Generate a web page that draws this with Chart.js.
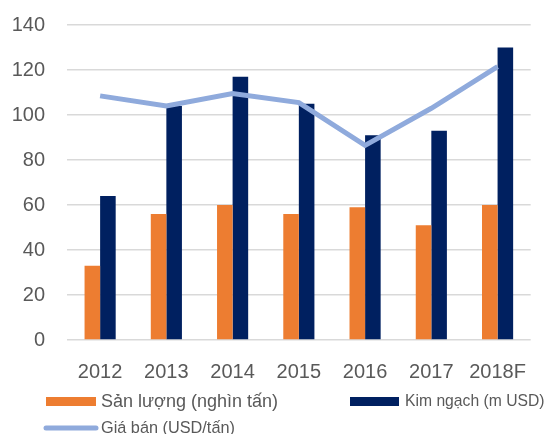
<!DOCTYPE html>
<html>
<head>
<meta charset="utf-8">
<script src="https://cdn.jsdelivr.net/npm/chart.js@4/dist/chart.umd.min.js"></script>
<style>
    html, body { margin: 0; padding: 0; background: #fff; }
    #wrap { width: 547px; height: 434px; position: relative; }
</style>
</head>
<body>
<div id="wrap"><canvas id="chart" width="547" height="434"></canvas></div>
<script>
// Data
const years = ['2012', '2013', '2014', '2015', '2016', '2017', '2018F'];
const sanLuong = [33, 56, 60, 56, 59, 51, 60];
const kimNgach = [64, 104, 117, 105, 91, 93, 130];
const giaBan = [108.5, 104, 109.5, 105.5, 86.5, 103, 121.5];
const yTicks = [0, 20, 40, 60, 80, 100, 120, 140];

const ORANGE = '#ED7D31';
const NAVY = '#002060';
const LIGHT = '#8FAADC';
const TEXT = '#595959';
const FONT = "'Liberation Sans', Arial, sans-serif";

// fit a legend label into the width it has in the original
function fitText(ctx, text, x, y, width) {
    ctx.font = '17px ' + FONT;
    const size = Math.min(18, 17 * width / ctx.measureText(text).width);
    ctx.font = size.toFixed(1) + 'px ' + FONT;
    ctx.fillText(text, x, y);
}

// Legend drawn by hand to get the two-row layout of the original
const legendPlugin = {
    id: 'customLegend',
    afterDraw(chart) {
        const ctx = chart.ctx;
        const ds = chart.data.datasets;
        ctx.save();
        ctx.textBaseline = 'middle';

        // row 1: the two bar series
        ctx.fillStyle = ds[0].backgroundColor;
        ctx.fillRect(46, 397, 50, 9);
        ctx.fillStyle = TEXT;
        fitText(ctx, ds[0].label, 101, 402, 178);

        ctx.fillStyle = ds[1].backgroundColor;
        ctx.fillRect(350, 397, 49, 9);
        ctx.fillStyle = TEXT;
        fitText(ctx, ds[1].label, 405, 402, 140);

        // row 2: the line series
        ctx.strokeStyle = ds[2].borderColor;
        ctx.lineWidth = 5;
        ctx.lineCap = 'round';
        ctx.beginPath();
        ctx.moveTo(46, 428);
        ctx.lineTo(96, 428);
        ctx.stroke();
        fitText(ctx, ds[2].label, 101, 429, 134);
        ctx.restore();
    }
};

const ctx = document.getElementById('chart').getContext('2d');
new Chart(ctx, {
    type: 'bar',
    data: {
        labels: years,
        datasets: [
            {
                type: 'bar',
                label: 'Sản lượng (nghìn tấn)',
                data: sanLuong,
                backgroundColor: ORANGE,
                categoryPercentage: 0.47,
                barPercentage: 1,
                order: 2
            },
            {
                type: 'bar',
                label: 'Kim ngạch (m USD)',
                data: kimNgach,
                backgroundColor: NAVY,
                categoryPercentage: 0.47,
                barPercentage: 1,
                order: 2
            },
            {
                type: 'line',
                label: 'Giá bán (USD/tấn)',
                data: giaBan,
                borderColor: LIGHT,
                backgroundColor: LIGHT,
                borderWidth: 5,
                pointRadius: 0,
                tension: 0,
                fill: false,
                order: 0
            }
        ]
    },
    options: {
        responsive: false,
        animation: false,
        layout: {
            padding: { left: 0, right: 15, top: 25, bottom: 50 }
        },
        plugins: {
            legend: { display: false },
            tooltip: { enabled: false }
        },
        scales: {
            x: {
                grid: { display: false, drawTicks: false },
                border: { display: false },
                ticks: {
                    color: TEXT,
                    padding: 20,
                    font: { family: FONT, size: 20 }
                },
                afterFit(scale) { scale.height = 44; }
            },
            y: {
                min: 0,
                max: 140,
                afterBuildTicks(scale) {
                    scale.ticks = yTicks.map(v => ({ value: v }));
                },
                grid: { color: '#D9D9D9', lineWidth: 1.5, drawTicks: false },
                border: { display: false },
                ticks: {
                    color: TEXT,
                    padding: 22,
                    font: { family: FONT, size: 20 }
                },
                afterFit(scale) {
                    scale.width = 67;
                    scale.paddingTop = 0;
                }
            }
        }
    },
    plugins: [legendPlugin]
});
</script>
</body>
</html>
